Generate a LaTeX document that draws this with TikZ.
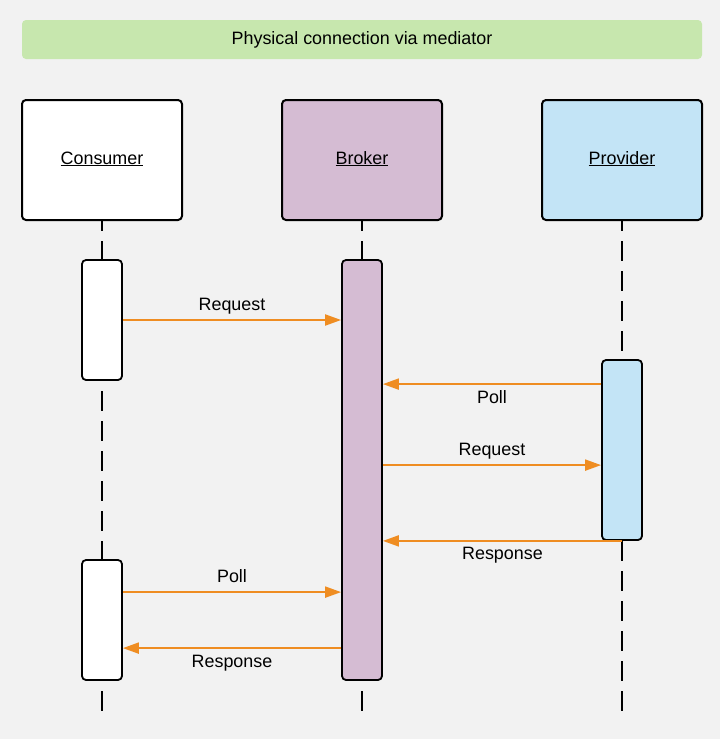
\documentclass[tikz,border=0pt]{standalone}
\usepackage{fontspec}
\setmainfont{Liberation Sans}
\usetikzlibrary{arrows.meta}
\definecolor{bgc}{HTML}{F2F2F2}
\definecolor{titlec}{HTML}{C7E7AE}
\definecolor{brokerc}{HTML}{D5BCD3}
\definecolor{providerc}{HTML}{C3E4F6}
\definecolor{msgc}{HTML}{EF8D22}
\tikzset{
  txt/.style={font=\fontsize{17.9}{20}\selectfont, text=black},
  header/.style={draw=black, line width=2pt, rounded corners=4pt, minimum width=160pt, minimum height=120pt, inner sep=0pt, txt},
  actbox/.style={draw=black, line width=1.8pt, rounded corners=4pt, minimum width=40pt, inner sep=0pt},
  lifeline/.style={draw=black, line width=2pt, dash pattern=on 20pt off 10pt, dash phase=10pt},
  msg/.style={draw=msgc, line width=2pt, -{Triangle[length=16pt,width=11pt]}},
  lbl/.style={txt, inner sep=0pt},
}
\newcommand{\hdtext}[1]{\raisebox{-4pt}[0pt][0pt]{\underline{#1}}}
\begin{document}
\begin{tikzpicture}[x=1pt,y=-1pt]
\useasboundingbox[fill=bgc] (0,0) rectangle (720,739);
% title
\node[fill=titlec, rounded corners=4pt, minimum width=680pt, minimum height=39pt, inner sep=0pt, txt] (title) at (362,39.5) {Physical connection via mediator};
% headers
\node[header, fill=white] (cons) at (102,160) {\hdtext{Consumer}};
\node[header, fill=brokerc] (brok) at (362,160) {\hdtext{Broker}};
\node[header, fill=providerc] (prov) at (622,160) {\hdtext{Provider}};
% lifeline ends
\coordinate (consend) at (102,720);
\coordinate (brokend) at (362,720);
\coordinate (provend) at (622,720);
\draw[lifeline] (cons.south) -- (consend);
\draw[lifeline] (brok.south) -- (brokend);
\draw[lifeline] (prov.south) -- (provend);
% activation boxes
\node[actbox, fill=white, minimum height=120pt] (ca1) at (102,320) {};
\node[actbox, fill=white, minimum height=120pt] (ca2) at (102,620) {};
\node[actbox, fill=brokerc, minimum height=420pt] (ba) at (362,470) {};
\node[actbox, fill=providerc, minimum height=180pt] (pa) at (622,450) {};
% messages
\draw[msg] (ca1.east) -- (ba.west |- ca1.east) node[lbl, midway, anchor=base, yshift=10pt] {Request};
\coordinate (p1) at ([yshift=-25pt]pa.north west);
\draw[msg] (p1) -- (ba.east |- p1) node[lbl, midway, anchor=base, yshift=-19pt] {Poll};
\coordinate (r2) at ([yshift=-206pt]ba.north east);
\draw[msg] (r2) -- (pa.west |- r2) node[lbl, midway, anchor=base, yshift=10pt] {Request};
\draw[msg] (pa.south) -- (ba.east |- pa.south) node[lbl, midway, anchor=base, yshift=-19pt] {Response};
\coordinate (p2) at ([yshift=-33pt]ca2.north east);
\draw[msg] (p2) -- (ba.west |- p2) node[lbl, midway, anchor=base, yshift=10pt] {Poll};
\coordinate (r3) at ([yshift=-89pt]ca2.north east);
\draw[msg] (ba.west |- r3) -- (r3) node[lbl, midway, anchor=base, yshift=-19pt] {Response};
\end{tikzpicture}
\end{document}
